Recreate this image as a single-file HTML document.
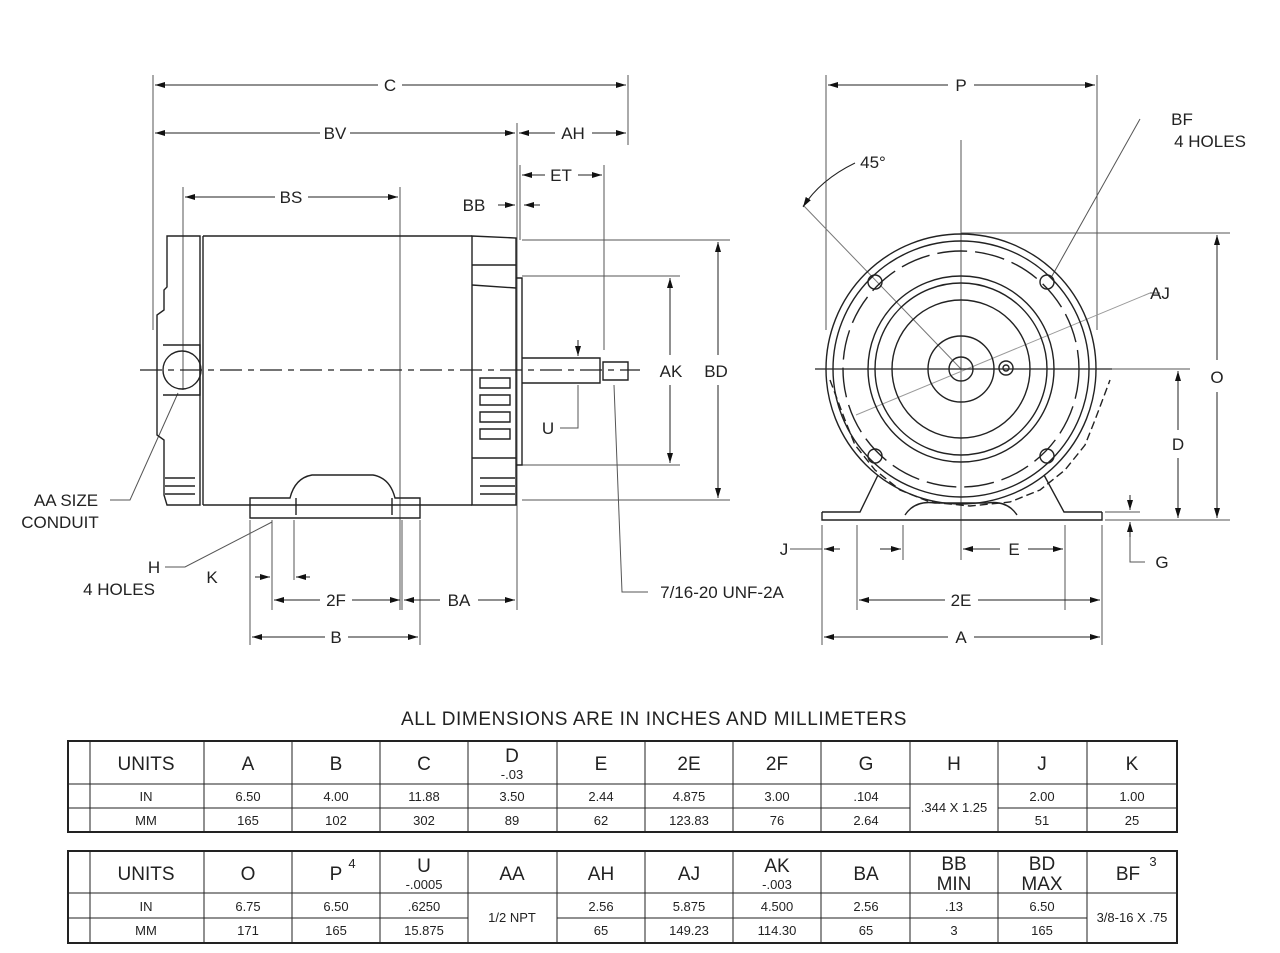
<!DOCTYPE html>
<html><head><meta charset="utf-8"><style>
html,body{margin:0;padding:0;background:#fff;}
svg{display:block;font-family:"Liberation Sans",Arial,sans-serif;}
</style></head><body>
<svg width="1280" height="953" viewBox="0 0 1280 953" xmlns="http://www.w3.org/2000/svg">
<defs>
<marker id="a" viewBox="0 0 10 6" refX="10" refY="3" markerWidth="10" markerHeight="6" markerUnits="userSpaceOnUse" orient="auto-start-reverse"><path d="M0,0 L10,3 L0,6 z" fill="#111"/></marker>
</defs>
<g stroke="#555" stroke-width="1" fill="none">
<line x1="153" y1="75" x2="153" y2="330"/>
<line x1="628" y1="75" x2="628" y2="145"/>
<line x1="517" y1="123" x2="517" y2="610"/>
<line x1="520" y1="165" x2="520" y2="240"/>
<line x1="604" y1="165" x2="604" y2="350"/>
<line x1="183" y1="187" x2="183" y2="390"/>
<line x1="400" y1="187" x2="400" y2="610"/>
<line x1="522" y1="240" x2="730" y2="240"/>
<line x1="522" y1="276" x2="680" y2="276"/>
<line x1="522" y1="465" x2="680" y2="465"/>
<line x1="522" y1="500" x2="730" y2="500"/>
<line x1="250" y1="520" x2="250" y2="645"/>
<line x1="420" y1="520" x2="420" y2="645"/>
<line x1="272" y1="520" x2="272" y2="610"/>
<line x1="294" y1="520" x2="294" y2="580"/>
<line x1="402" y1="520" x2="402" y2="610"/>
<line x1="826" y1="75" x2="826" y2="330"/>
<line x1="1097" y1="75" x2="1097" y2="330"/>
<line x1="961" y1="140" x2="961" y2="560"/>
<line x1="961" y1="233" x2="1230" y2="233"/>
<line x1="1000" y1="369" x2="1190" y2="369"/>
<line x1="1105" y1="520" x2="1230" y2="520"/>
<line x1="1105" y1="512" x2="1140" y2="512"/>
<line x1="822" y1="525" x2="822" y2="645"/>
<line x1="1102" y1="525" x2="1102" y2="645"/>
<line x1="857" y1="525" x2="857" y2="610"/>
<line x1="1065" y1="525" x2="1065" y2="610"/>
<line x1="903" y1="525" x2="903" y2="560"/>
<line x1="803" y1="205" x2="961" y2="369" stroke="#777"/>
<line x1="1140" y1="119" x2="1052" y2="276"/>
<line x1="1150" y1="293" x2="856" y2="415" stroke="#999"/>
<line x1="1160" y1="293" x2="1150" y2="293"/>
<polyline points="110,500 130,500 178,393"/>
<polyline points="165,567 185,567 272,522"/>
<polyline points="560,428 578,428 578,385"/>
<polyline points="648,592 622,592 614,385"/>
<polyline points="1145,562 1130,562 1130,535"/>
<line x1="790" y1="549" x2="822" y2="549"/>
</g>
<line x1="140" y1="370" x2="640" y2="370" stroke="#222" stroke-width="1.2" stroke-dasharray="22,6,6,6"/>
<g stroke="#222" stroke-width="1.4" fill="none">
<path d="M167,236 L200,236 L200,505 L167,505 L164,495 L164,440 L157,435 L157,315 L164,310 L164,290 L167,287 Z"/>
<line x1="203" y1="236" x2="472" y2="236"/>
<line x1="203" y1="505" x2="472" y2="505"/>
<line x1="203" y1="236" x2="203" y2="505"/>
<path d="M472,236 L516,238 L516,505 L472,505 Z"/>
<line x1="472" y1="265" x2="516" y2="265"/>
<line x1="472" y1="285" x2="516" y2="288"/>
<line x1="472" y1="458" x2="516" y2="458"/>
<path d="M516,278 L522,278 L522,465 L516,465"/>
<circle cx="182" cy="370" r="19"/>
<path d="M163,345 L200,345 L200,395 L163,395"/>
<path d="M480,378 h30 v10 h-30 z M480,395 h30 v10 h-30 z M480,412 h30 v10 h-30 z M480,429 h30 v10 h-30 z"/>
<path d="M165,478 h30 M165,486 h30 M165,494 h30 M480,478 h35 M480,486 h35 M480,494 h35"/>
<path d="M522,358 L600,358 L600,383 L522,383"/>
<path d="M603,362 L628,362 L628,380 L603,380 Z"/>
<path d="M250,498 L290,498 Q295,478 312,475 L373,475 Q390,478 395,498 L420,498 L420,518 L250,518 Z"/>
<path d="M296,515 L296,498 M392,515 L392,498"/>
</g>
<g stroke="#222" stroke-width="1.4" fill="none">
<circle cx="961" cy="369" r="135"/>
<circle cx="961" cy="369" r="128"/>
<circle cx="961" cy="369" r="118" stroke-dasharray="30,8"/>
<circle cx="961" cy="369" r="93"/>
<circle cx="961" cy="369" r="86"/>
<circle cx="961" cy="369" r="69"/>
<circle cx="961" cy="369" r="33"/>
<circle cx="961" cy="369" r="12"/>
<circle cx="1006" cy="368" r="7"/><circle cx="1006" cy="368" r="3"/>
<circle cx="875" cy="282" r="7"/><circle cx="1047" cy="282" r="7"/>
<circle cx="875" cy="456" r="7"/><circle cx="1047" cy="456" r="7"/>
<path d="M822,512 L860,512 L878,475 M1102,512 L1064,512 L1044,475"/>
<path d="M822,512 L822,520 L1102,520 L1102,512"/>
<path d="M905,515 Q915,500 935,503 L987,503 Q1007,500 1017,515"/>
<path d="M830,380 l15,40 l10,25 l20,25 l25,20 l30,12 l40,4 l40,-4 l30,-12 l25,-20 l20,-25 l10,-25 l15,-40" stroke-dasharray="8,4"/>
</g>
<g stroke="#222" stroke-width="1.2">
<line x1="815" y1="369" x2="1112" y2="369"/>
</g>
<g stroke="#222" stroke-width="1" fill="none" marker-end="url(#a)">
<line x1="378" y1="85" x2="155" y2="85"/><line x1="402" y1="85" x2="626" y2="85"/>
<line x1="320" y1="133" x2="155" y2="133"/><line x1="350" y1="133" x2="515" y2="133"/>
<line x1="555" y1="133" x2="519" y2="133"/><line x1="592" y1="133" x2="626" y2="133"/>
<line x1="545" y1="175" x2="522" y2="175"/><line x1="578" y1="175" x2="602" y2="175"/>
<line x1="275" y1="197" x2="185" y2="197"/><line x1="308" y1="197" x2="398" y2="197"/>
<line x1="498" y1="205" x2="515" y2="205"/><line x1="540" y1="205" x2="524" y2="205"/>
<line x1="670" y1="355" x2="670" y2="278"/><line x1="670" y1="385" x2="670" y2="463"/>
<line x1="718" y1="355" x2="718" y2="242"/><line x1="718" y1="385" x2="718" y2="498"/>
<line x1="578" y1="340" x2="578" y2="356"/>
<line x1="320" y1="600" x2="274" y2="600"/><line x1="352" y1="600" x2="400" y2="600"/>
<line x1="440" y1="600" x2="404" y2="600"/><line x1="478" y1="600" x2="515" y2="600"/>
<line x1="325" y1="637" x2="252" y2="637"/><line x1="348" y1="637" x2="418" y2="637"/>
<line x1="255" y1="577" x2="270" y2="577"/><line x1="310" y1="577" x2="296" y2="577"/>
<line x1="948" y1="85" x2="828" y2="85"/><line x1="974" y1="85" x2="1095" y2="85"/>
<line x1="1217" y1="360" x2="1217" y2="235"/><line x1="1217" y1="392" x2="1217" y2="518"/>
<line x1="1178" y1="430" x2="1178" y2="371"/><line x1="1178" y1="458" x2="1178" y2="518"/>
<line x1="1000" y1="549" x2="963" y2="549"/><line x1="1028" y1="549" x2="1063" y2="549"/>
<line x1="945" y1="600" x2="859" y2="600"/><line x1="978" y1="600" x2="1100" y2="600"/>
<line x1="948" y1="637" x2="824" y2="637"/><line x1="974" y1="637" x2="1100" y2="637"/>
<line x1="840" y1="549" x2="824" y2="549"/><line x1="880" y1="549" x2="901" y2="549"/>
<line x1="1130" y1="495" x2="1130" y2="510"/><line x1="1130" y1="537" x2="1130" y2="522"/>
<path d="M855,163 Q820,180 803,207"/>
</g>
<g font-size="17" fill="#222" text-anchor="middle">
<text x="390" y="91">C</text><text x="335" y="139">BV</text><text x="573" y="139">AH</text>
<text x="561" y="181">ET</text><text x="291" y="203">BS</text><text x="474" y="211">BB</text>
<text x="671" y="377">AK</text><text x="716" y="377">BD</text><text x="548" y="434">U</text>
<text x="66" y="506">AA SIZE</text><text x="60" y="528">CONDUIT</text>
<text x="154" y="573">H</text><text x="119" y="595">4 HOLES</text><text x="212" y="583">K</text>
<text x="336" y="606">2F</text><text x="459" y="606">BA</text><text x="336" y="643">B</text>
<text x="722" y="598">7/16-20 UNF-2A</text>
<text x="961" y="91">P</text><text x="873" y="168">45°</text>
<text x="1182" y="125">BF</text><text x="1210" y="147">4 HOLES</text>
<text x="1160" y="299">AJ</text><text x="1217" y="383">O</text><text x="1178" y="450">D</text>
<text x="784" y="555">J</text><text x="1014" y="555">E</text><text x="1162" y="568">G</text>
<text x="961" y="606">2E</text><text x="961" y="643">A</text>
<text x="654" y="725" font-size="19" letter-spacing="0.6">ALL DIMENSIONS ARE IN INCHES AND MILLIMETERS</text>
</g>
<g stroke="#222" fill="none">
<rect x="68" y="741" width="1109" height="91" stroke-width="2"/>
<line x1="90" y1="741" x2="90" y2="832"/>
<line x1="68" y1="784" x2="1177" y2="784"/><line x1="68" y1="808" x2="910" y2="808"/><line x1="998" y1="808" x2="1177" y2="808"/>
<path d="M204,741V832 M292,741V832 M380,741V832 M468,741V832 M557,741V832 M645,741V832 M733,741V832 M821,741V832 M910,741V832 M998,741V832 M1087,741V832"/>
<rect x="68" y="851" width="1109" height="92" stroke-width="2"/>
<line x1="90" y1="851" x2="90" y2="943"/>
<line x1="68" y1="893" x2="1177" y2="893"/><line x1="68" y1="918" x2="468" y2="918"/><line x1="557" y1="918" x2="1087" y2="918"/>
<path d="M204,851V943 M292,851V943 M380,851V943 M468,851V943 M557,851V943 M645,851V943 M733,851V943 M821,851V943 M910,851V943 M998,851V943 M1087,851V943"/>
</g>
<g fill="#222" text-anchor="middle" font-size="19">
<text x="146" y="770">UNITS</text><text x="248" y="770">A</text><text x="336" y="770">B</text><text x="424" y="770">C</text>
<text x="512" y="762">D</text><text x="601" y="770">E</text><text x="689" y="770">2E</text><text x="777" y="770">2F</text>
<text x="866" y="770">G</text><text x="954" y="770">H</text><text x="1042" y="770">J</text><text x="1132" y="770">K</text>
<text x="146" y="880">UNITS</text><text x="248" y="880">O</text><text x="336" y="880">P</text><text x="424" y="872">U</text>
<text x="512" y="880">AA</text><text x="601" y="880">AH</text><text x="689" y="880">AJ</text><text x="777" y="872">AK</text>
<text x="866" y="880">BA</text><text x="954" y="870">BB</text><text x="954" y="890">MIN</text><text x="1042" y="870">BD</text><text x="1042" y="890">MAX</text><text x="1128" y="880">BF</text>
</g>
<g fill="#222" text-anchor="middle" font-size="13">
<text x="512" y="779">-.03</text><text x="424" y="889">-.0005</text><text x="777" y="889">-.003</text>
<text x="352" y="868">4</text><text x="1153" y="866">3</text>
<text x="146" y="801">IN</text><text x="248" y="801">6.50</text><text x="336" y="801">4.00</text><text x="424" y="801">11.88</text><text x="512" y="801">3.50</text><text x="601" y="801">2.44</text><text x="689" y="801">4.875</text><text x="777" y="801">3.00</text><text x="866" y="801">.104</text><text x="954" y="812">.344 X 1.25</text><text x="1042" y="801">2.00</text><text x="1132" y="801">1.00</text>
<text x="146" y="825">MM</text><text x="248" y="825">165</text><text x="336" y="825">102</text><text x="424" y="825">302</text><text x="512" y="825">89</text><text x="601" y="825">62</text><text x="689" y="825">123.83</text><text x="777" y="825">76</text><text x="866" y="825">2.64</text><text x="1042" y="825">51</text><text x="1132" y="825">25</text>
<text x="146" y="911">IN</text><text x="248" y="911">6.75</text><text x="336" y="911">6.50</text><text x="424" y="911">.6250</text><text x="512" y="922">1/2 NPT</text><text x="601" y="911">2.56</text><text x="689" y="911">5.875</text><text x="777" y="911">4.500</text><text x="866" y="911">2.56</text><text x="954" y="911">.13</text><text x="1042" y="911">6.50</text><text x="1132" y="922">3/8-16 X .75</text>
<text x="146" y="935">MM</text><text x="248" y="935">171</text><text x="336" y="935">165</text><text x="424" y="935">15.875</text><text x="601" y="935">65</text><text x="689" y="935">149.23</text><text x="777" y="935">114.30</text><text x="866" y="935">65</text><text x="954" y="935">3</text><text x="1042" y="935">165</text>
</g>
</svg>
</body></html>
